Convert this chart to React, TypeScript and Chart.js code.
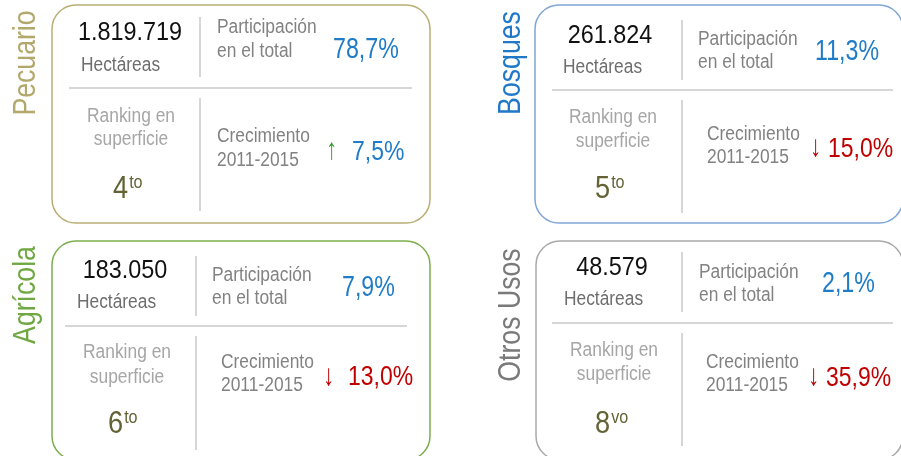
import React, { useEffect, useRef } from "react";
import { Chart, registerables } from "chart.js";

Chart.register(...registerables);

// ---- data ----
const categories = ["Pecuario", "Bosques", "Agrícola", "Otros Usos"];
const hectareas = [1819719, 261824, 183050, 48579];
const participacion = [78.7, 11.3, 7.9, 2.1];
const crecimiento = [7.5, -15.0, -13.0, -35.9];
const ranking = [4, 5, 6, 8];
const rankingSufijo = ["to", "to", "to", "vo"];

// ---- styles / layout (kept apart from data) ----
const categoryColors = ["#b3a86b", "#1f78c8", "#6fa843", "#7a7a7a"];
const borderColors = ["#b9ae74", "#7ea6d6", "#7cae4e", "#a9a9a9"];
const FONT = "'Liberation Sans', Arial, 'DejaVu Sans', sans-serif";

type Layout = {
  box: [number, number, number, number];
  label: [number, number];
  num: [number, number];
  hect: [number, number];
  vdiv1: [number, number, number];
  hdiv: [number, number, number];
  vdiv2: [number, number, number];
  part: [number, number, number];
  pct: [number, number];
  rank: [number, number, number];
  rankNum: [number, number];
  crec: [number, number, number];
  arrow: [number, number];
  growth: [number, number];
};

const layouts: Layout[] = [
  {
    box: [52, 5, 430, 223],
    label: [35, 63],
    num: [130, 40],
    hect: [81, 71],
    vdiv1: [200, 17, 77],
    hdiv: [88, 69, 412],
    vdiv2: [200, 98, 211],
    part: [217, 33, 57],
    pct: [333, 58],
    rank: [131, 122, 145],
    rankNum: [113, 198],
    crec: [217, 142, 166],
    arrow: [326, 159],
    growth: [352, 160],
  },
  {
    box: [535, 5, 903, 223],
    label: [520, 63],
    num: [610, 43],
    hect: [563, 73],
    vdiv1: [682, 20, 80],
    hdiv: [90, 552, 893],
    vdiv2: [682, 100, 213],
    part: [698, 45, 68],
    pct: [815, 60],
    rank: [613, 123, 147],
    rankNum: [595, 198],
    crec: [707, 140, 163],
    arrow: [810, 156],
    growth: [828, 157],
  },
  {
    box: [52, 241, 430, 460],
    label: [35, 295],
    num: [125, 278],
    hect: [77, 308],
    vdiv1: [196, 256, 316],
    hdiv: [326, 65, 407],
    vdiv2: [196, 336, 450],
    part: [212, 281, 304],
    pct: [342, 296],
    rank: [127, 358, 383],
    rankNum: [108, 433],
    crec: [221, 368, 391],
    arrow: [323, 385],
    growth: [348, 385],
  },
  {
    box: [536, 241, 903, 460],
    label: [520, 315],
    num: [612, 275],
    hect: [564, 305],
    vdiv1: [682, 252, 312],
    hdiv: [323, 552, 893],
    vdiv2: [682, 333, 446],
    part: [699, 278, 301],
    pct: [822, 292],
    rank: [614, 356, 380],
    rankNum: [595, 433],
    crec: [706, 368, 391],
    arrow: [808, 385],
    growth: [826, 386],
  },
];

function fmtMiles(v: number): string {
  return String(v).replace(/\B(?=(\d{3})+(?!\d))/g, ".");
}
function fmtPct(v: number): string {
  return v.toFixed(1).replace(".", ",") + "%";
}

function txt(
  ctx: CanvasRenderingContext2D,
  s: string,
  x: number,
  y: number,
  size: number,
  color: string,
  align: CanvasTextAlign = "left",
  sx = 0.88
): number {
  ctx.save();
  ctx.font = `${size}px ${FONT}`;
  ctx.fillStyle = color;
  ctx.textAlign = align;
  ctx.textBaseline = "alphabetic";
  ctx.translate(x, y);
  ctx.scale(sx, 1);
  ctx.fillText(s, 0, 0);
  const w = ctx.measureText(s).width * sx;
  ctx.restore();
  return w;
}

function line(ctx: CanvasRenderingContext2D, x1: number, y1: number, x2: number, y2: number) {
  ctx.save();
  ctx.strokeStyle = "#c8c8c8";
  ctx.lineWidth = 1.5;
  ctx.beginPath();
  ctx.moveTo(x1, y1);
  ctx.lineTo(x2, y2);
  ctx.stroke();
  ctx.restore();
}

const cardsPlugin = {
  id: "cards",
  afterDraw(chart: Chart) {
    const ctx = chart.ctx;
    const labels = chart.data.labels as string[];
    const ds = chart.data.datasets[0].data as number[];
    labels.forEach((cat, i) => {
      const L = layouts[i];
      // card
      const [x1, y1, x2, y2] = L.box;
      ctx.save();
      ctx.strokeStyle = borderColors[i];
      ctx.lineWidth = 1.5;
      ctx.beginPath();
      (ctx as any).roundRect(x1, y1, x2 - x1, y2 - y1, 24);
      ctx.stroke();
      ctx.restore();

      // vertical category label
      ctx.save();
      ctx.translate(L.label[0], L.label[1]);
      ctx.rotate(-Math.PI / 2);
      ctx.font = `31px ${FONT}`;
      ctx.fillStyle = categoryColors[i];
      ctx.textAlign = "center";
      ctx.scale(0.86, 1);
      ctx.fillText(cat, 0, 0);
      ctx.restore();

      // dividers
      line(ctx, L.vdiv1[0], L.vdiv1[1], L.vdiv1[0], L.vdiv1[2]);
      line(ctx, L.hdiv[1], L.hdiv[0], L.hdiv[2], L.hdiv[0]);
      line(ctx, L.vdiv2[0], L.vdiv2[1], L.vdiv2[0], L.vdiv2[2]);

      // hectares
      txt(ctx, fmtMiles(ds[i]), L.num[0], L.num[1], 26, "#111111", "center", 0.9);
      txt(ctx, "Hectáreas", L.hect[0], L.hect[1], 19.5, "#6e6e6e", "left", 0.89);

      // participation
      txt(ctx, "Participación", L.part[0], L.part[1], 20, "#828282", "left", 0.87);
      txt(ctx, "en el total", L.part[0], L.part[2], 20, "#828282", "left", 0.87);
      txt(ctx, fmtPct(participacion[i]), L.pct[0], L.pct[1], 29, "#1f7cc8", "left", 0.8);

      // ranking
      txt(ctx, "Ranking en", L.rank[0], L.rank[1], 20, "#a6a6a6", "center", 0.87);
      txt(ctx, "superficie", L.rank[0], L.rank[2], 20, "#a6a6a6", "center", 0.87);
      const w = txt(ctx, String(ranking[i]), L.rankNum[0], L.rankNum[1], 32, "#636336", "left", 0.85);
      txt(ctx, rankingSufijo[i], L.rankNum[0] + w + 1, L.rankNum[1] - 10, 19, "#636336", "left", 0.85);

      // growth
      txt(ctx, "Crecimiento", L.crec[0], L.crec[1], 20, "#828282", "left", 0.87);
      txt(ctx, "2011-2015", L.crec[0], L.crec[2], 20, "#828282", "left", 0.87);
      const g = crecimiento[i];
      const up = g >= 0;
      txt(ctx, up ? "↑" : "↓", L.arrow[0], L.arrow[1], 30, up ? "#3a9c3a" : "#c00000", "left", 0.75);
      txt(ctx, fmtPct(Math.abs(g)), L.growth[0], L.growth[1], 28, up ? "#1f7cc8" : "#c00000", "left", 0.82);
    });
  },
};

export default function App() {
  const ref = useRef<HTMLCanvasElement>(null);
  useEffect(() => {
    document.body.style.margin = "0";
    const canvas = ref.current!;
    const chart = new Chart(canvas, {
      type: "bar",
      data: {
        labels: categories,
        datasets: [{ label: "Hectáreas", data: hectareas, hidden: true }],
      },
      options: {
        animation: false,
        responsive: false,
        layout: { padding: 0 },
        plugins: { legend: { display: false }, tooltip: { enabled: false } },
        scales: { x: { display: false }, y: { display: false } },
      },
      plugins: [cardsPlugin],
    });
    return () => chart.destroy();
  }, []);
  return (
    <div style={{ position: "absolute", left: 0, top: 0, width: 901, height: 456, background: "#fff" }}>
      <canvas ref={ref} width={901} height={456} style={{ width: 901, height: 456 }} />
    </div>
  );
}
